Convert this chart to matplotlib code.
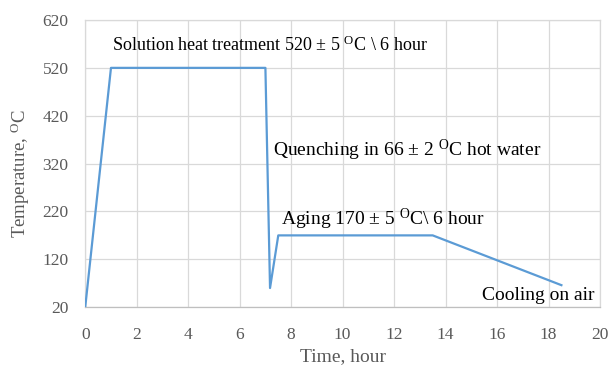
import matplotlib
matplotlib.use("Agg")
import matplotlib.pyplot as plt

time_h = [0, 1, 7, 7.18, 7.5, 13.5, 18.5]
temp_c = [20, 520, 520, 60, 170, 170, 66]
xticks = list(range(0, 21, 2))
yticks = list(range(20, 621, 100))

plt.rcParams['font.family'] = ['Liberation Serif', 'DejaVu Serif']
plt.rcParams['mathtext.fontset'] = 'custom'
plt.rcParams['mathtext.rm'] = 'Liberation Serif'
plt.rcParams['mathtext.it'] = 'Liberation Serif:italic'

fig = plt.figure(figsize=(6.11, 3.67), dpi=100)
ax = fig.add_axes([0.1395, 0.163, 0.8425, 0.7825])
ax.plot(time_h, temp_c, color='#5B9BD5', lw=1.6, zorder=3)
ax.set_xlim(0, 20)
ax.set_ylim(20, 620)
ax.set_xticks(xticks)
ax.set_yticks(yticks)
ax.grid(True, color='#D9D9D9', lw=0.9)
ax.set_axisbelow(True)
for s in ax.spines.values():
    s.set_color('#D9D9D9')
    s.set_linewidth(0.9)
ax.spines['bottom'].set_color('#BFBFBF')
ax.tick_params(length=0, labelsize=12.5, colors='#595959')
ax.tick_params(axis='x', pad=14)
ax.tick_params(axis='y', pad=12)
ax.set_xlabel('Time, hour', fontsize=14, color='#595959')
ax.set_ylabel(r'Temperature, $^{\mathrm{O}}$C', fontsize=13.5, color='#595959')
ax.xaxis.set_label_coords(0.5, -0.143)
ax.yaxis.set_label_coords(-0.103, 0.464)

ax.text(1.05, 567, r'Solution heat treatment 520 $\pm$ 5 $^{\mathrm{O}}$C \ 6 hour',
        fontsize=13, color='black', va='center', ha='left')
tk = dict(fontsize=14, color='black', va='center', ha='left')
ax.text(7.3, 347, r'Quenching in 66 $\pm$ 2 $^{\mathrm{O}}$C hot water', **tk)
ax.text(7.6, 204, r'Aging 170 $\pm$ 5 $^{\mathrm{O}}$C\ 6 hour', **tk)
ax.text(15.4, 45, 'Cooling on air', **tk)

fig.savefig('out.png', dpi=100)
